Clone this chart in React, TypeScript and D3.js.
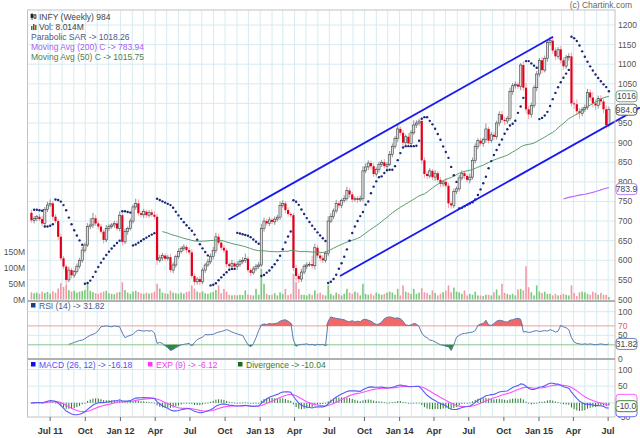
import React from 'react';
import * as d3 from 'd3';

// weekly closes, INFY, week of 13 May 2011 .. 3 Jul 2015
const closes = [
  702, 707, 711, 705, 694, 730, 741, 745, 711, 700,
  660, 605, 584, 550, 575, 562, 571, 585, 600, 626,
  639, 686, 690, 707, 694, 686, 673, 652, 681, 686,
  690, 694, 681, 715, 647, 673, 681, 700, 736, 745,
  720, 716, 724, 715, 722, 716, 711, 600, 606, 612,
  604, 608, 575, 588, 609, 622, 630, 634, 626, 620,
  560, 545, 552, 545, 575, 588, 596, 610, 625, 660,
  645, 632, 625, 590, 585, 592, 584, 590, 597, 600,
  604, 575, 568, 578, 585, 588, 681, 700, 694, 703,
  698, 705, 710, 740, 745, 728, 718, 715, 580, 560,
  552, 570, 585, 588, 590, 586, 632, 612, 605, 600,
  618, 700, 712, 726, 745, 740, 752, 758, 778, 768,
  755, 758, 754, 757, 828, 838, 848, 840, 820, 832,
  845, 850, 840, 845, 870, 890, 910, 935, 925, 900,
  915, 898, 925, 945, 950, 955, 855, 820, 815, 828,
  812, 822, 805, 795, 800, 790, 745, 740, 775, 782,
  810, 822, 815, 805, 812, 855, 890, 905, 898, 908,
  935, 905, 920, 915, 950, 972, 958, 955, 962, 1030,
  1045, 1048, 1043, 1098, 1040, 985, 972, 995, 1040, 1075,
  1110, 1085, 1115, 1155, 1160, 1135, 1120, 1138, 1110, 1095,
  1118, 1120, 1000, 998, 980, 975, 985, 990, 1028, 1015,
  1000, 995, 1012, 1005, 985, 945, 984,
];
const firstOpen = 721;

// wick above the body / below the body
const wickUp = [
  8, 6, 5, 7, 9, 6, 8, 10, 6, 7,
  5, 8, 6, 5, 9, 6, 5, 7, 6, 8,
  6, 9, 18, 14, 8, 6, 7, 5, 9, 6,
  5, 6, 8, 10, 6, 8, 5, 7, 6, 12,
  10, 6, 7, 5, 6, 8, 9, 6, 8, 7,
  5, 6, 9, 7, 5, 8, 6, 7, 5, 6,
  8, 6, 5, 7, 6, 5, 8, 7, 9, 10,
  8, 6, 7, 5, 6, 9, 5, 7, 6, 8,
  13, 6, 5, 7, 6, 8, 12, 9, 6, 8,
  5, 7, 6, 10, 8, 6, 7, 5, 6, 9,
  6, 8, 5, 7, 6, 22, 10, 7, 6, 8,
  5, 12, 8, 6, 9, 7, 5, 8, 10, 6,
  7, 5, 6, 8, 12, 9, 7, 6, 8, 5,
  7, 6, 8, 5, 9, 8, 7, 10, 6, 8,
  6, 9, 7, 12, 7, 6, 10, 8, 6, 7,
  5, 8, 6, 7, 5, 9, 7, 6, 8, 6,
  8, 7, 6, 5, 9, 7, 8, 6, 7, 5,
  14, 6, 8, 7, 6, 8, 9, 7, 6, 10,
  7, 8, 6, 5, 10, 12, 9, 7, 6, 8,
  6, 9, 7, 8, 10, 7, 8, 6, 9, 7,
  6, 8, 10, 7, 12, 8, 6, 7, 9, 8,
  14, 10, 8, 9, 7, 10, 8,
];
const wickDn = [
  6, 8, 7, 5, 8, 6, 7, 5, 9, 6,
  8, 6, 7, 10, 6, 8, 7, 5, 6, 7,
  6, 5, 7, 8, 6, 7, 5, 9, 6, 7,
  6, 8, 5, 7, 9, 6, 8, 5, 6, 7,
  6, 5, 8, 7, 6, 5, 7, 12, 6, 8,
  7, 5, 6, 8, 7, 6, 5, 7, 8, 6,
  6, 9, 7, 8, 6, 7, 5, 6, 8, 7,
  5, 7, 6, 8, 7, 5, 6, 8, 7, 6,
  7, 6, 8, 5, 6, 7, 5, 8, 6, 7,
  6, 8, 5, 7, 6, 8, 7, 6, 8, 12,
  10, 7, 6, 8, 5, 7, 9, 6, 8, 7,
  6, 8, 5, 7, 6, 8, 7, 5, 6, 8,
  7, 6, 8, 5, 7, 6, 8, 9, 7, 6,
  8, 7, 6, 9, 5, 7, 6, 8, 7, 9,
  8, 7, 6, 5, 8, 7, 9, 10, 8, 6,
  7, 9, 6, 8, 7, 6, 12, 8, 7, 6,
  7, 6, 8, 7, 9, 6, 8, 7, 6, 8,
  8, 7, 6, 9, 7, 8, 6, 10, 7, 6,
  8, 7, 6, 9, 8, 10, 12, 8, 7, 9,
  7, 8, 6, 9, 7, 8, 10, 7, 8, 9,
  7, 9, 8, 12, 10, 15, 8, 7, 6, 9,
  10, 12, 8, 9, 10, 9, 6,
];

// weekly volume, millions
const volumes = [
  23, 20, 22, 18, 25, 21, 24, 19, 26, 22,
  35, 52, 40, 48, 30, 25, 28, 22, 25, 27,
  30, 55, 28, 24, 20, 18, 22, 25, 28, 20,
  18, 17, 22, 24, 55, 30, 22, 18, 25, 28,
  24, 20, 18, 22, 19, 21, 25, 50, 35, 22,
  20, 18, 28, 22, 20, 18, 22, 19, 24, 26,
  45, 35, 25, 22, 26, 20, 18, 22, 24, 30,
  45, 20, 34, 25, 15, 13, 14, 13, 15, 14,
  29, 16, 14, 13, 34, 15, 98, 50, 18, 14,
  15, 20, 13, 23, 18, 34, 14, 18, 82, 55,
  34, 15, 15, 13, 18, 14, 29, 18, 22, 15,
  13, 45, 18, 13, 22, 18, 13, 18, 34, 22,
  18, 25, 22, 13, 50, 18, 15, 18, 13, 22,
  18, 15, 18, 22, 25, 22, 15, 34, 13, 45,
  25, 22, 18, 34, 18, 22, 36, 23, 21, 15,
  29, 21, 13, 18, 23, 28, 45, 23, 38, 25,
  23, 18, 29, 13, 18, 15, 25, 13, 13, 11,
  15, 15, 13, 23, 32, 13, 50, 21, 18, 15,
  18, 13, 32, 34, 29, 106, 39, 23, 13, 45,
  25, 21, 25, 18, 18, 13, 18, 13, 15, 18,
  15, 13, 45, 21, 11, 23, 25, 23, 18, 15,
  25, 21, 15, 21, 15, 15, 8,
];

// RSI (14) as plotted, from week 14 on
const rsiStart = 14;
const rsiValues = [
  31, 33, 35, 37, 39, 40, 43, 47, 50, 52,
  55, 60, 68, 69, 70, 69, 68, 70, 69, 68,
  55, 45, 48, 50, 52, 58, 61, 60, 59, 60,
  59, 60, 55, 33, 35, 33, 28, 24, 18, 20,
  24, 27, 30, 31, 32, 33, 28, 35, 41, 44,
  46, 52, 51, 52, 52, 55, 57, 58, 60, 62,
  60, 57, 55, 53, 51, 50, 40, 30, 26, 32,
  45, 60, 72, 74, 73, 75, 74, 75, 76, 80,
  82, 83, 80, 76, 40, 27, 30, 31, 31, 32,
  30, 31, 29, 31, 30, 31, 28, 80, 89, 87,
  86, 85, 84, 83, 80, 79, 81, 78, 80, 79,
  83, 84, 82, 80, 76, 73, 74, 78, 85, 88,
  89, 88, 86, 87, 85, 80, 72, 71, 72, 75,
  74, 68, 55, 48, 45, 40, 39, 36, 33, 30,
  29, 27, 26, 18, 30, 46, 50, 53, 54, 55,
  56, 57, 60, 71, 74, 75, 82, 72, 71, 75,
  80, 82, 81, 79, 78, 82, 83, 85, 86, 84,
  57, 58, 56, 57, 59, 60, 58, 59, 60, 59,
  62, 60, 57, 59, 71, 68, 66, 62, 45, 36,
  33, 32, 31, 32, 31, 32, 31, 30, 31, 32,
  31, 30, 31.82,
];

const priceTicks = [500, 550, 600, 650, 700, 750, 800, 850, 900, 950, 1050, 1100, 1150, 1200];
const priceGrid = [550, 600, 650, 700, 750, 800, 850, 900, 950, 1000, 1050, 1100, 1150, 1200];
const volTicks = [0, 50, 100, 150];
const rsiTicks = [100, 70, 50, 0];
const macdTicks = [100, 50, -50];
const xTickLabels = ['Jul 11', 'Oct', 'Jan 12', 'Apr', 'Jul', 'Oct', 'Jan 13', 'Apr', 'Jul', 'Oct', 'Jan 14', 'Apr', 'Jul', 'Oct', 'Jan 15', 'Apr', 'Jul'];

// drawn trend channel: [date, price] end points
const channelLines: [Date, number, Date, number][] = [
  [new Date(2012, 9, 10), 704, new Date(2015, 1, 7), 1170],
  [new Date(2013, 6, 29), 560, new Date(2015, 8, 22), 989.5],
];

const lastClose = 984;
const lastVol = '8.014M';
const lastSar = 1018.26;
const lastMa200 = 783.94;
const lastMa50 = 1015.75;
const lastRsi = 31.82;
const lastMacd = -16.18;
const lastExp = -6.12;
const lastDiv = -10.04;

const FONT = '"Liberation Sans", Arial, sans-serif';
const L = 28, R = 615;
const MAIN_T = 10, MAIN_B = 300, RSI_B = 358, MACD_B = 417;

function sma(v: number[], p: number) {
  return v.map((_, i) => (i < p - 1 ? NaN : d3.mean(v.slice(i - p + 1, i + 1)) as number));
}
function ema(v: number[], p: number) {
  const k = 2 / (p + 1);
  const out: number[] = [];
  v.forEach((c, i) => out.push(i === 0 ? c : c * k + out[i - 1] * (1 - k)));
  return out;
}
function psar(hi: number[], lo: number[], step = 0.02, max = 0.2) {
  const out = hi.map(() => NaN);
  let isUp = false, sar = hi[0], ep = lo[0], af = step;
  for (let i = 1; i < hi.length; i++) {
    sar = sar + af * (ep - sar);
    if (isUp) {
      sar = Math.min(sar, lo[i - 1], lo[Math.max(i - 2, 0)]);
      if (lo[i] < sar) { isUp = false; sar = ep; ep = lo[i]; af = step; }
      else if (hi[i] > ep) { ep = hi[i]; af = Math.min(af + step, max); }
    } else {
      sar = Math.max(sar, hi[i - 1], hi[Math.max(i - 2, 0)]);
      if (hi[i] > sar) { isUp = true; sar = ep; ep = hi[i]; af = step; }
      else if (lo[i] < ep) { ep = lo[i]; af = Math.min(af + step, max); }
    }
    out[i] = sar;
  }
  return out;
}

const ValueBox = ({ y, text, color }: { y: number; text?: string; color: string }) => (
  <g transform={`translate(616,${y})`}>
    <rect x={0} y={-5.5} width={21} height={11} rx={3} fill="#fff" stroke={color} strokeWidth={0.9} />
    {text && <text x={10.5} y={3} textAnchor="middle" fontSize={8.5} fill="#444">{text}</text>}
  </g>
);

const App: React.FC = () => {
  const dates = closes.map((_, i) => new Date(2011, 4, 13 + 7 * i));
  const opens = closes.map((c, i) => (i === 0 ? firstOpen : closes[i - 1]));
  const highs = closes.map((c, i) => Math.max(opens[i], c) + wickUp[i]);
  const lows = closes.map((c, i) => Math.min(opens[i], c) - wickDn[i]);

  const ma50 = sma(closes, 50);
  const ma200 = sma(closes, 200);
  const sar = psar(highs, lows);
  const e12 = ema(closes, 12);
  const e26 = ema(closes, 26);
  const macd = closes.map((_, i) => e12[i] - e26[i]);
  const signal = ema(macd, 9);
  const div = macd.map((m, i) => m - signal[i]);

  const x = d3.scaleTime().domain([new Date(2011, 4, 4), new Date(2015, 6, 19)]).range([L, R]);
  const y = d3.scaleLinear().domain([500, 1200]).range([299.5, 25]);
  const yVol = d3.scaleLinear().domain([0, 150]).range([299.5, 252.4]);
  const yRsi = d3.scaleLinear().domain([0, 100]).range([359, 311.7]);
  const yMacd = d3.scaleLinear().domain([-50, 100]).range([419.5, 369.5]);

  const xi = (i: number) => x(dates[i]);
  const mkLine = (sy: (v: number) => number) =>
    d3.line<number>().defined(v => !isNaN(v)).x((_, i) => xi(i)).y(v => sy(v));

  const xr = (_: number, j: number) => xi(j + rsiStart);
  const rsiLine = d3.line<number>().x(xr).y(v => yRsi(v));
  const rsiHigh = d3.area<number>().x(xr).y0(yRsi(70)).y1(v => yRsi(Math.max(v, 70)));
  const rsiLow = d3.area<number>().x(xr).y0(yRsi(30)).y1(v => yRsi(Math.min(v, 30)));

  const months = d3.timeMonth.range(new Date(2011, 5, 1), new Date(2015, 6, 2));
  const quarters = d3.timeMonth.every(3)!.range(new Date(2011, 6, 1), new Date(2015, 6, 2));
  const grid = '#d6ebf1';

  return (
    <svg width={640} height={438} style={{ position: 'absolute', left: 0, top: 0, background: '#fff' }} fontFamily={FONT}>
      {/* grid */}
      {months.map((m, i) => (
        <line key={'m' + i} x1={x(m)} x2={x(m)} y1={MAIN_T} y2={MACD_B} stroke={grid} strokeWidth={1} />
      ))}
      {priceGrid.map(t => (
        <line key={'p' + t} x1={L} x2={R} y1={y(t)} y2={y(t)} stroke={grid} />
      ))}
      {[100, 50].map(t => (
        <line key={'r' + t} x1={L} x2={R} y1={yRsi(t)} y2={yRsi(t)} stroke={grid} />
      ))}
      {[100, 50, 0].map(t => (
        <line key={'c' + t} x1={L} x2={R} y1={yMacd(t)} y2={yMacd(t)} stroke={grid} />
      ))}

      {/* volume */}
      {volumes.map((v, i) => (
        <rect key={'v' + i} x={xi(i) - 0.8} width={1.6} y={yVol(v)} height={yVol(0) - yVol(v)}
          fill={closes[i] >= opens[i] ? '#7cc87c' : '#f19aa6'} />
      ))}

      {/* candles */}
      {closes.map((c, i) => {
        const up = c >= opens[i];
        const cx = xi(i);
        const top = y(Math.max(c, opens[i]));
        const bot = y(Math.min(c, opens[i]));
        return (
          <g key={'k' + i}>
            <line x1={cx} x2={cx} y1={y(highs[i])} y2={y(lows[i])} stroke={up ? '#777' : '#f28c98'} strokeWidth={0.8} />
            <rect x={cx - 1.1} width={2.2} y={top} height={Math.max(bot - top, 0.8)}
              fill={up ? '#dcdcdc' : '#e3001b'} stroke={up ? '#333' : 'none'} strokeWidth={0.55} />
          </g>
        );
      })}

      {/* moving averages */}
      <path d={mkLine(y)(ma50) || ''} fill="none" stroke="#5c9a6a" strokeWidth={1} />
      <path d={mkLine(y)(ma200) || ''} fill="none" stroke="#b56cff" strokeWidth={1.2} />

      {/* parabolic SAR */}
      {sar.map((s, i) => (isNaN(s) ? null : <circle key={'s' + i} cx={xi(i)} cy={y(s)} r={1.2} fill="#1b2777" />))}

      {/* channel */}
      {channelLines.map((c, i) => (
        <line key={'ch' + i} x1={x(c[0])} y1={y(c[1])} x2={x(c[2])} y2={y(c[3])} stroke="#1a1aee" strokeWidth={1.8} />
      ))}

      {/* RSI */}
      <line x1={L} x2={R} y1={yRsi(70)} y2={yRsi(70)} stroke="#f2a0a0" />
      <line x1={L} x2={R} y1={yRsi(30)} y2={yRsi(30)} stroke="#8cc48c" />
      <path d={rsiHigh(rsiValues) || ''} fill="#f06868" />
      <path d={rsiLow(rsiValues) || ''} fill="#2f8a3a" />
      <path d={rsiLine(rsiValues) || ''} fill="none" stroke="#5b7bb0" strokeWidth={1} />

      {/* MACD */}
      {div.map((d, i) => (
        <rect key={'d' + i} x={xi(i) - 0.5} width={1} y={Math.min(yMacd(d), yMacd(0))}
          height={Math.max(Math.abs(yMacd(d) - yMacd(0)), 0.8)} fill="#2a7a2a" />
      ))}
      <path d={mkLine(yMacd)(signal) || ''} fill="none" stroke="#ff4fff" strokeWidth={1.1} />
      <path d={mkLine(yMacd)(macd) || ''} fill="none" stroke="#5b5bf5" strokeWidth={1.1} />

      {/* frames */}
      <rect x={27.5} y={MAIN_T} width={R - 27.5} height={MACD_B - MAIN_T} fill="none" stroke="#c2c2c2" />
      <line x1={27.5} x2={R} y1={MAIN_B + 1} y2={MAIN_B + 1} stroke="#b0b0b0" strokeWidth={2} />
      <line x1={27.5} x2={R} y1={RSI_B + 1} y2={RSI_B + 1} stroke="#b0b0b0" strokeWidth={2} />

      {/* x axis */}
      {quarters.map((q, i) => (
        <g key={'q' + i}>
          <line x1={x(q)} x2={x(q)} y1={MACD_B} y2={MACD_B + 4} stroke="#666" />
          <text x={x(q)} y={434} textAnchor="middle" fontSize={9} fontWeight="bold" fill="#333">{xTickLabels[i]}</text>
        </g>
      ))}

      {/* right axes */}
      {priceTicks.map(t => (
        <text key={'pt' + t} x={618} y={y(t) + 3} fontSize={8.5} fill="#555">{t}</text>
      ))}
      {rsiTicks.map(t => (
        <text key={'rt' + t} x={618} y={yRsi(t) + 3} fontSize={8.5} fill={t === 70 ? '#e05a5a' : '#555'}>{t}</text>
      ))}
      {macdTicks.map(t => (
        <text key={'mt' + t} x={618} y={Math.min(yMacd(t), 416.5) + 3} fontSize={8.5} fill="#555">{t}</text>
      ))}
      {volTicks.map(t => (
        <text key={'vt' + t} x={25} y={yVol(t) + 3} textAnchor="end" fontSize={8.5} fill="#555">{t}M</text>
      ))}

      {/* last value boxes */}
      <ValueBox y={y(lastMa50) - 1} text={String(Math.round(lastMa50))} color="#5c9a8a" />
      <ValueBox y={y(lastClose)} text={lastClose.toFixed(1)} color="#555" />
      <ValueBox y={y(lastMa200) + 1} text={lastMa200.toFixed(1)} color="#b56cff" />
      <ValueBox y={yRsi(lastRsi)} text={lastRsi.toFixed(2)} color="#5b7bb0" />
      <ValueBox y={yMacd(lastExp) - 5} color="#ff4fff" />
      <ValueBox y={yMacd(lastMacd) + 3} color="#5b5bf5" />
      <ValueBox y={yMacd(lastDiv)} text={lastDiv.toFixed(1)} color="#2a7a2a" />

      {/* legends */}
      <g fontSize={8.5}>
        <g stroke="#222" strokeWidth={0.8}>
          <line x1={32} x2={32} y1={13} y2={20} />
          <line x1={35} x2={35} y1={14} y2={19} />
          <rect x={31} y={14.5} width={2} height={3} fill="#222" />
          <rect x={34} y={15} width={2} height={3} fill="#fff" />
        </g>
        <text x={39} y={19.5} fill="#444">INFY (Weekly) {lastClose}</text>
        <rect x={31} y={26} width={1.5} height={4} fill="#2a8a2a" />
        <rect x={33} y={24} width={1.5} height={6} fill="#d02020" />
        <rect x={35} y={25} width={1.5} height={5} fill="#2a8a2a" />
        <text x={39} y={29.5} fill="#444">Vol: {lastVol}</text>
        <text x={31} y={39.5} fill="#4a5a8a">Parabolic SAR -&gt; {lastSar}</text>
        <text x={31} y={49.5} fill="#a85cf0">Moving Avg (200) C -&gt; {lastMa200}</text>
        <text x={31} y={59.5} fill="#4f7a55">Moving Avg (50) C -&gt; {lastMa50}</text>

        <rect x={31} y={303} width={4.5} height={4.5} fill="#1d3f7a" />
        <text x={39} y={308.5} fill="#4a5a8a">RSI (14) -&gt; {lastRsi}</text>

        <rect x={31} y={362} width={4.5} height={4.5} fill="#1010ee" />
        <text x={39} y={367.5} fill="#5050f0">MACD (26, 12) -&gt; {lastMacd}</text>
        <rect x={148} y={362} width={4.5} height={4.5} fill="#ff33ff" />
        <text x={156} y={367.5} fill="#ee44ee">EXP (9) -&gt; {lastExp}</text>
        <rect x={238} y={362} width={4.5} height={4.5} fill="#1a6a1a" />
        <text x={246} y={367.5} fill="#3a7a3a">Divergence -&gt; {lastDiv}</text>
      </g>
      <text x={632} y={8} textAnchor="end" fontSize={8.5} fill="#666">(c) Chartink.com</text>
    </svg>
  );
};

export default App;
